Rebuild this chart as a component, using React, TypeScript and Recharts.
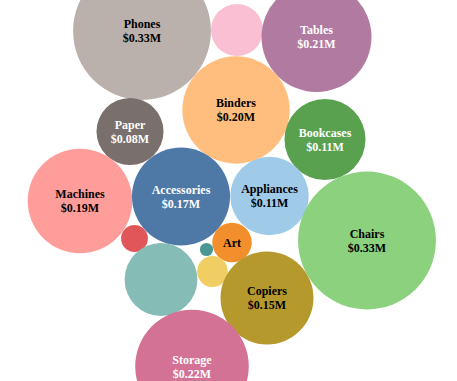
import React from "react";
import { ScatterChart, Scatter, XAxis, YAxis, ZAxis, Cell } from "recharts";

// Sub-category sales (millions)
const categories = [
  "Phones", "Supplies", "Tables", "Binders", "Paper", "Bookcases", "Machines",
  "Accessories", "Appliances", "Chairs", "Labels", "Art", "Fasteners",
  "Furnishings", "Envelopes", "Copiers", "Storage",
];
const sales = [
  0.33, 0.047, 0.21, 0.2, 0.078, 0.114, 0.19,
  0.167, 0.107, 0.33, 0.0125, 0.027, 0.003,
  0.092, 0.0165, 0.15, 0.224,
];
const showLabel = [
  true, false, true, true, true, true, true,
  true, true, true, false, true, false,
  false, false, true, true,
];
// packed-bubble layout positions
const packX = [142, 237, 316.5, 236, 130, 325, 80, 181, 269.5, 367, 134.5, 232, 206.5, 161, 212.5, 267, 192];
const packY = [31, 30, 37, 110, 131.5, 139.5, 201, 196.5, 196, 240.5, 238.5, 242.5, 249.5, 279.5, 271.5, 298, 366.5];

const colors = [
  "#BAB0AC", "#FABFD2", "#B07AA1", "#FFBE7D", "#79706E", "#59A14F", "#FF9D9A",
  "#4E79A7", "#A0CBE8", "#8CD17D", "#E15759", "#F28E2B", "#499894",
  "#86BCB6", "#F1CE63", "#B6992D", "#D37295",
];
const textColors = [
  "#000", "#000", "#fff", "#000", "#fff", "#fff", "#000",
  "#fff", "#000", "#000", "#000", "#000", "#000",
  "#000", "#000", "#000", "#fff",
];

const data = categories.map((name, i) => ({
  name,
  value: sales[i],
  x: packX[i],
  y: packY[i],
  label: showLabel[i],
  color: colors[i],
  textColor: textColors[i],
}));

const K = 120; // px radius per sqrt(M)
const maxV = 0.33;

const Bubble = (props: any) => {
  const { cx, cy, size, payload, width } = props;
  const r = size != null ? Math.sqrt(size / Math.PI) : width / 2;
  const fs = 12;
  const font = { fontFamily: "'Liberation Serif', 'Times New Roman', serif", fontWeight: 700, fontSize: fs };
  let labels: React.ReactNode = null;
  if (payload.label) {
    if (payload.name === "Art") {
      labels = (
        <text x={cx} y={cy} textAnchor="middle" dominantBaseline="central" fill={payload.textColor} style={font}>
          {payload.name}
        </text>
      );
    } else {
      labels = (
        <g>
          <text x={cx} y={cy - 7} textAnchor="middle" dominantBaseline="central" fill={payload.textColor} style={font}>
            {payload.name}
          </text>
          <text x={cx} y={cy + 7} textAnchor="middle" dominantBaseline="central" fill={payload.textColor} style={font}>
            {"$" + payload.value.toFixed(2) + "M"}
          </text>
        </g>
      );
    }
  }
  return (
    <g>
      <circle cx={cx} cy={cy} r={r} fill={payload.color} />
      {labels}
    </g>
  );
};

export default function App() {
  return (
    <div style={{ position: "fixed", left: 0, top: 0, width: 457, height: 381, background: "#fff" }}>
      <ScatterChart width={457} height={381} margin={{ top: 0, right: 0, bottom: 0, left: 0 }}>
        <XAxis type="number" dataKey="x" domain={[0, 457]} hide />
        <YAxis type="number" dataKey="y" domain={[0, 381]} reversed hide />
        <ZAxis type="number" dataKey="value" domain={[0, maxV]} range={[0, Math.PI * K * K * maxV]} />
        <Scatter data={data} shape={<Bubble />} isAnimationActive={false}>
          {data.map((d, i) => (
            <Cell key={i} fill={d.color} />
          ))}
        </Scatter>
      </ScatterChart>
    </div>
  );
}
